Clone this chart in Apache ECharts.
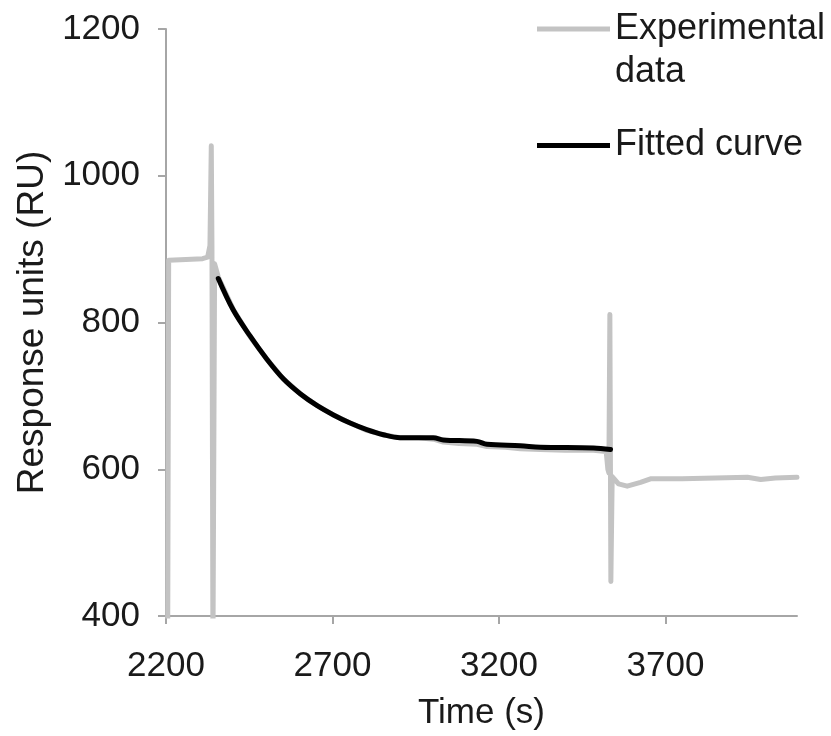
<!DOCTYPE html>
<html>
<head>
<meta charset="utf-8">
<script src="https://cdn.jsdelivr.net/npm/echarts@6/dist/echarts.min.js"></script>
<style>
html,body{margin:0;padding:0;background:#fff;}
#chart{width:831px;height:736px;}
</style>
</head>
<body>
<div id="chart"></div>
<script>
// ---- data ----
const expTime = [2205, 2208, 2260, 2310, 2325, 2332, 2336, 2338, 2341, 2346, 2357, 2402, 2452, 2503, 2553, 2603, 2653, 2703, 2753, 2803, 2853, 2903, 2960, 3003, 3033, 3080, 3134, 3164, 3220, 3264, 3324, 3400, 3484, 3522, 3527, 3530, 3533, 3536, 3540, 3559, 3585, 3625, 3655, 3750, 3850, 3946, 3986, 4030, 4095];
const expValue = [350, 885, 886, 887, 889, 905, 1041, 905, 350, 880, 862, 818, 781, 750, 723, 703, 687, 674, 663, 653, 647, 643, 643, 641, 637, 635, 634, 631, 630, 628, 627, 626, 626, 624, 600, 595, 811, 447, 590, 580, 577, 582, 587, 587, 588, 589, 586, 588, 589];
const fitTime = [2357, 2402, 2452, 2503, 2553, 2603, 2653, 2703, 2753, 2803, 2853, 2903, 3003, 3033, 3134, 3164, 3264, 3324, 3484, 3535];
const fitValue = [860, 817, 782, 750, 723, 703, 687, 674, 663, 654, 647, 643, 643, 640, 638, 634, 632, 630, 629, 627];
const xTicks = [2200, 2700, 3200, 3700];
const yTicks = [400, 600, 800, 1000, 1200];
const seriesNames = ['Experimental data', 'Fitted curve'];
const xTitle = 'Time (s)';
const yTitle = 'Response units (RU)';

const font = "'Liberation Sans', Arial, Helvetica, sans-serif";
const axisGrey = '#a6a6a6';
const expColor = '#c3c3c3';
const fitColor = '#000000';
const textColor = '#1a1a1a';

const chart = echarts.init(document.getElementById('chart'), null, {renderer: 'canvas'});
chart.setOption({
  animation: false,
  backgroundColor: '#ffffff',
  textStyle: {fontFamily: font, color: textColor},
  grid: {left: 166, right: 34, top: 29, bottom: 113, containLabel: false},
  legend: [
    {
      data: [seriesNames[0]],
      orient: 'vertical',
      left: 537, top: -35.5, padding: 0,
      icon: 'rect', itemWidth: 73, itemHeight: 5,
      formatter: n => '\n' + n.replace(' ', '\n'),
      textStyle: {fontFamily: font, fontSize: 36, color: textColor, lineHeight: 43}
    },
    {
      data: [seriesNames[1]],
      orient: 'vertical',
      left: 537, top: 124, padding: 0,
      icon: 'rect', itemWidth: 73, itemHeight: 5,
      textStyle: {fontFamily: font, fontSize: 36, color: textColor, lineHeight: 43}
    }
  ],
  xAxis: {
    type: 'value', min: xTicks[0], max: 4095, interval: 500,
    name: xTitle, nameLocation: 'middle', nameGap: 80,
    nameTextStyle: {fontFamily: font, fontSize: 35, color: textColor},
    axisLine: {show: true, lineStyle: {color: axisGrey, width: 2}},
    axisTick: {show: true, length: 8, lineStyle: {color: axisGrey, width: 2}, customValues: xTicks},
    axisLabel: {fontFamily: font, fontSize: 35, color: textColor, margin: 33, customValues: xTicks, formatter: v => String(v)},
    splitLine: {show: false}
  },
  yAxis: {
    type: 'value', min: yTicks[0], max: yTicks[yTicks.length - 1], interval: 200,
    name: yTitle, nameLocation: 'middle', nameGap: 112, nameRotate: 90,
    nameTextStyle: {fontFamily: font, fontSize: 37, color: textColor},
    axisLine: {show: true, lineStyle: {color: axisGrey, width: 2}},
    axisTick: {show: true, length: 8, lineStyle: {color: axisGrey, width: 2}},
    axisLabel: {fontFamily: font, fontSize: 35, color: textColor, margin: 26, formatter: v => String(v)},
    splitLine: {show: false}
  },
  series: [
    {
      name: seriesNames[0], type: 'line', symbol: 'none', clip: true,
      color: expColor,
      lineStyle: {color: expColor, width: 5, join: 'round', cap: 'round'},
      data: expTime.map((t, i) => [t, expValue[i]]),
      z: 2
    },
    {
      name: seriesNames[1], type: 'line', symbol: 'none', clip: true,
      color: fitColor, smooth: 0.35,
      lineStyle: {color: fitColor, width: 5, join: 'round', cap: 'round'},
      data: fitTime.map((t, i) => [t, fitValue[i]]),
      z: 3
    }
  ]
});
</script>
</body>
</html>
